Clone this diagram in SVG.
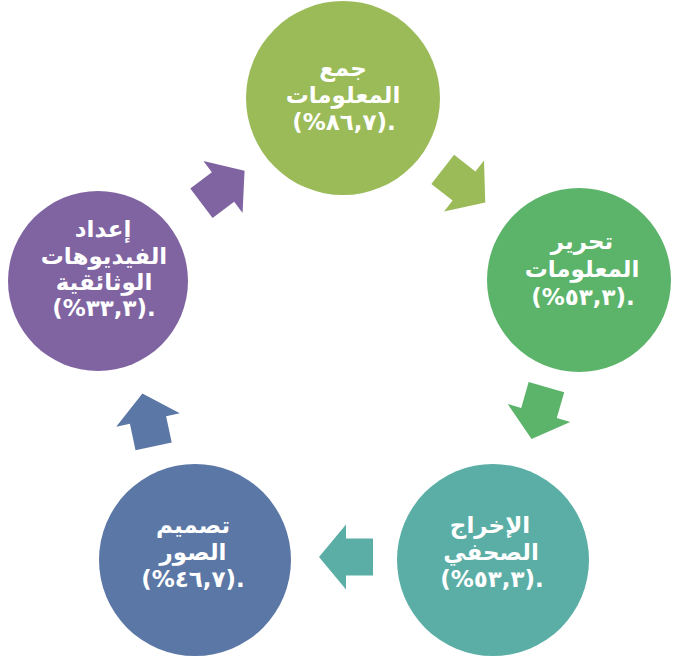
<svg xmlns="http://www.w3.org/2000/svg" width="674" height="657" viewBox="0 0 674 657">
<style>
  .lbl { font-family: "DejaVu Sans", "Noto Sans", sans-serif; font-weight: bold; font-size: 23px; fill: #ffffff; text-anchor: middle; }
  .ar { direction: rtl; }
</style>
<defs>
  <path id="arr" d="M-27,-18.5 L0,-18.5 L0,-32.5 L27,0 L0,32.5 L0,18.5 L-27,18.5 Z"/>
</defs>
<rect width="674" height="657" fill="#ffffff"/>
<g id="connectors">
  <use href="#arr" fill="#9bbb59" transform="translate(464,186) rotate(38)"/>
  <use href="#arr" fill="#5cb46a" transform="translate(539,413) rotate(106)"/>
  <use href="#arr" fill="#5baea5" transform="translate(346,557) rotate(180)"/>
  <use href="#arr" fill="#5b77a6" transform="translate(148,420) rotate(-102)"/>
  <use href="#arr" fill="#8064a2" transform="translate(223,187) rotate(-37)"/>
</g>
<g id="node1">
  <circle cx="343" cy="98" r="97" fill="#9bbb59"/>
  <text class="lbl ar" x="343" y="76">جمع</text>
  <text class="lbl ar" x="343" y="103">المعلومات</text>
  <text class="lbl" x="344" y="130">(%٨٦,٧).</text>
</g>
<g id="node2">
  <circle cx="579" cy="280" r="92" fill="#5cb46a"/>
  <text class="lbl ar" x="582" y="249">تحرير</text>
  <text class="lbl ar" x="582" y="277">المعلومات</text>
  <text class="lbl" x="583" y="305">(%٥٣,٣).</text>
</g>
<g id="node3">
  <circle cx="493" cy="560" r="96" fill="#5baea5"/>
  <text class="lbl ar" x="490" y="533">الإخراج</text>
  <text class="lbl ar" x="491" y="560">الصحفي</text>
  <text class="lbl" x="492" y="587">(%٥٣,٣).</text>
</g>
<g id="node4">
  <circle cx="195" cy="560" r="96" fill="#5b77a6"/>
  <text class="lbl ar" x="193" y="533">تصميم</text>
  <text class="lbl ar" x="193" y="560">الصور</text>
  <text class="lbl" x="193" y="587">(%٤٦,٧).</text>
</g>
<g id="node5">
  <circle cx="98" cy="281" r="90" fill="#8064a2"/>
  <text class="lbl ar" x="103" y="237">إعداد</text>
  <text class="lbl ar" x="104" y="264">الفيديوهات</text>
  <text class="lbl ar" x="104" y="290">الوثائقية</text>
  <text class="lbl" x="104" y="316">(%٣٣,٣).</text>
</g>
</svg>
